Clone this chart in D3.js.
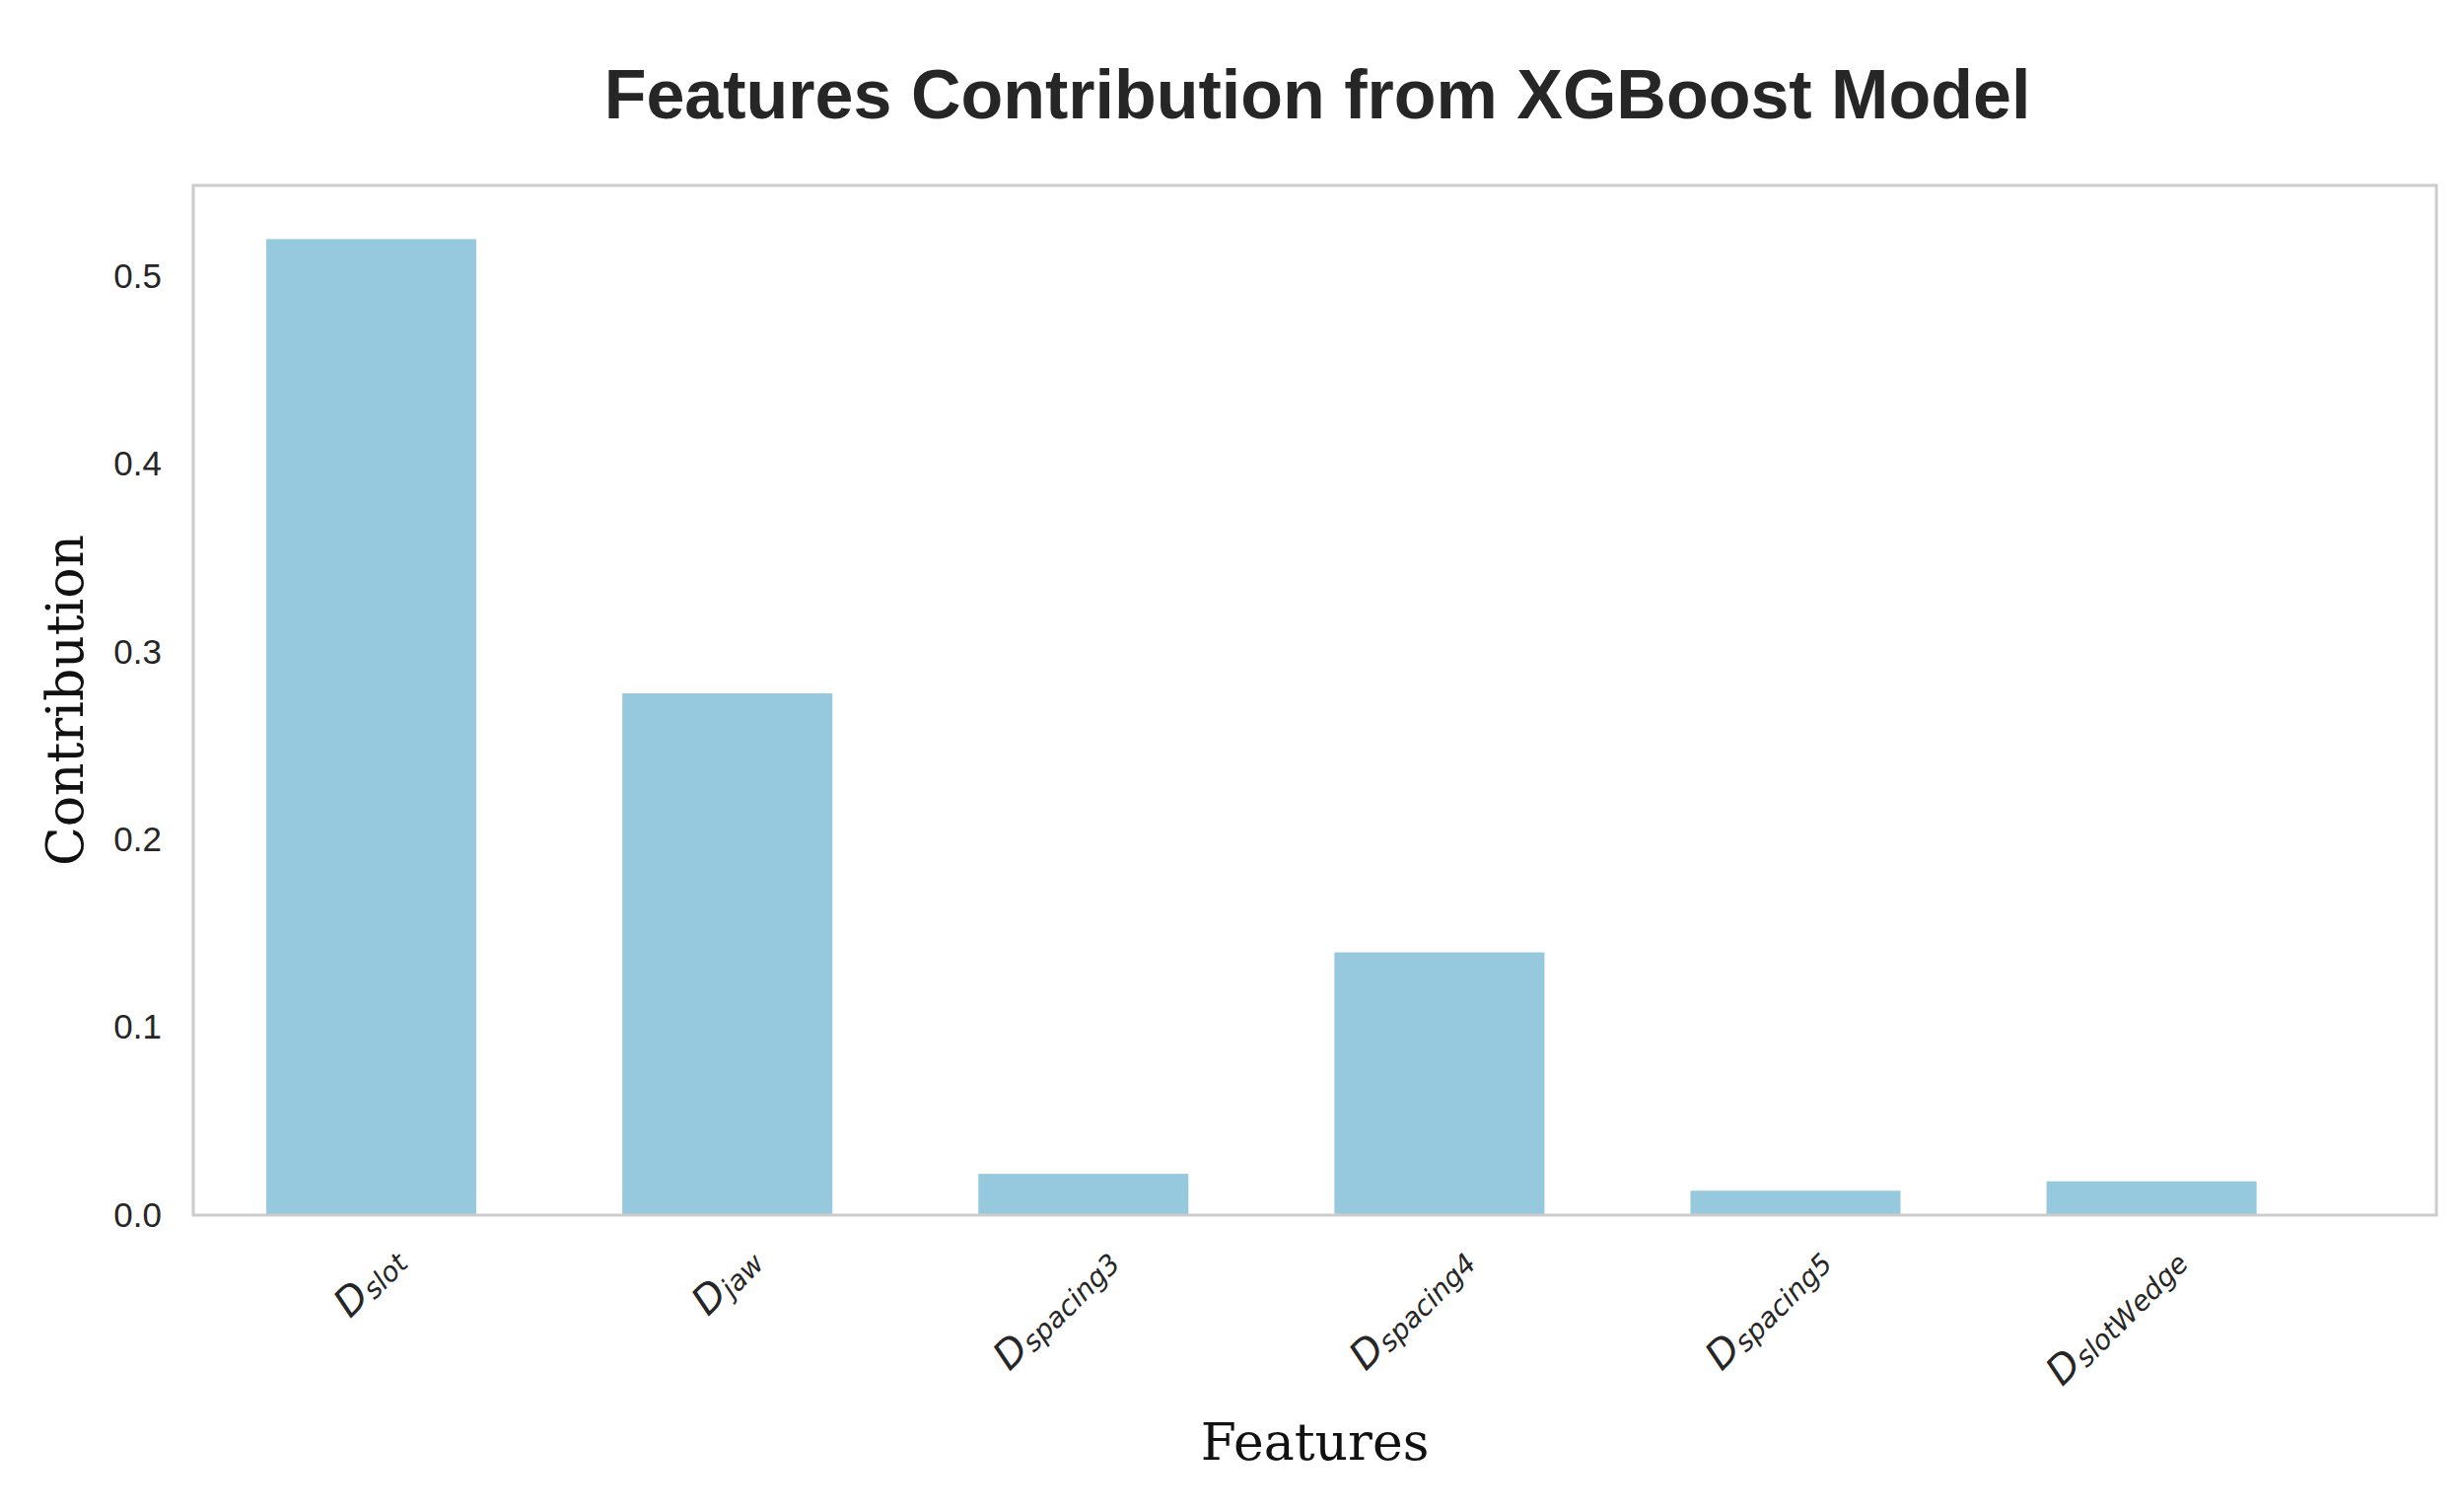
<!DOCTYPE html>
<html><head><meta charset="utf-8">
<script src="https://cdn.jsdelivr.net/npm/d3@7"></script>
<style>body{margin:0;background:#fff}</style>
</head><body>
<script>
var features = ['slot', 'jaw', 'spacing3', 'spacing4', 'spacing5', 'slotWedge']
var contributions = [0.520, 0.278, 0.022, 0.140, 0.013, 0.018]
var yTicks = [0.0, 0.1, 0.2, 0.3, 0.4, 0.5]

var W = 2499, H = 1532
var m = { left: 196, right: 28, top: 188, bottom: 300 }

var svg = d3.select('body').append('svg').attr('width', W).attr('height', H)

// bar centres by index; axis range is not symmetric around the bars
var x = d3.scaleLinear().domain([-0.5, 5.8]).range([m.left, W - m.right])
var barW = x(0.59) - x(0)
var y = d3.scaleLinear().domain([0, 0.5486]).range([H - m.bottom, m.top])

svg.append('g').selectAll('rect')
  .data(features)
  .enter().append('rect')
    .attr('x', function(d, i) { return x(i) - barW / 2 })
    .attr('width', barW)
    .attr('y', function(d, i) { return y(contributions[i]) })
    .attr('height', function(d, i) { return y(0) - y(contributions[i]) })
    .attr('fill', '#97c9de')

svg.append('rect')
  .attr('x', m.left).attr('y', m.top)
  .attr('width', W - m.right - m.left).attr('height', H - m.bottom - m.top)
  .attr('fill', 'none').attr('stroke', '#cccccc').attr('stroke-width', 3)

var yAxis = svg.append('g').attr('transform', 'translate(' + m.left + ',0)')
  .call(d3.axisLeft(y).tickValues(yTicks).tickFormat(d3.format('.1f')).tickSize(0).tickPadding(32))
yAxis.select('.domain').remove()
yAxis.selectAll('text').attr('font-family', 'Liberation Sans, Arial, sans-serif').attr('font-size', 35).attr('fill', '#262626')

var xl = svg.append('g').selectAll('text')
  .data(features)
  .enter().append('text')
    .attr('transform', function(d, i) { return 'translate(' + (x(i) + 36) + ',' + (H - m.bottom + 48) + ') rotate(-45)' })
    .attr('text-anchor', 'end')
    .attr('font-family', 'DejaVu Sans, sans-serif')
    .attr('font-style', 'italic')
    .attr('font-size', 40)
    .attr('fill', '#262626')
xl.append('tspan').text('D')
xl.append('tspan').attr('font-size', 28).attr('dy', 4).text(function(d) { return d })

svg.append('text')
  .attr('x', 1336).attr('y', 120)
  .attr('text-anchor', 'middle')
  .attr('font-family', 'Liberation Sans, Arial, sans-serif').attr('font-weight', 'bold')
  .attr('font-size', 70).attr('fill', '#262626')
  .text('Features Contribution from XGBoost Model')

svg.append('text')
  .attr('x', (m.left + W - m.right) / 2).attr('y', 1480)
  .attr('text-anchor', 'middle')
  .attr('font-family', 'DejaVu Serif, serif')
  .attr('font-size', 52).attr('fill', '#111')
  .text('Features')

svg.append('text')
  .attr('transform', 'translate(84,' + ((m.top + H - m.bottom) / 2) + ') rotate(-90)')
  .attr('text-anchor', 'middle')
  .attr('font-family', 'DejaVu Serif, serif')
  .attr('font-size', 52).attr('fill', '#111')
  .text('Contribution')
</script>
</body></html>
